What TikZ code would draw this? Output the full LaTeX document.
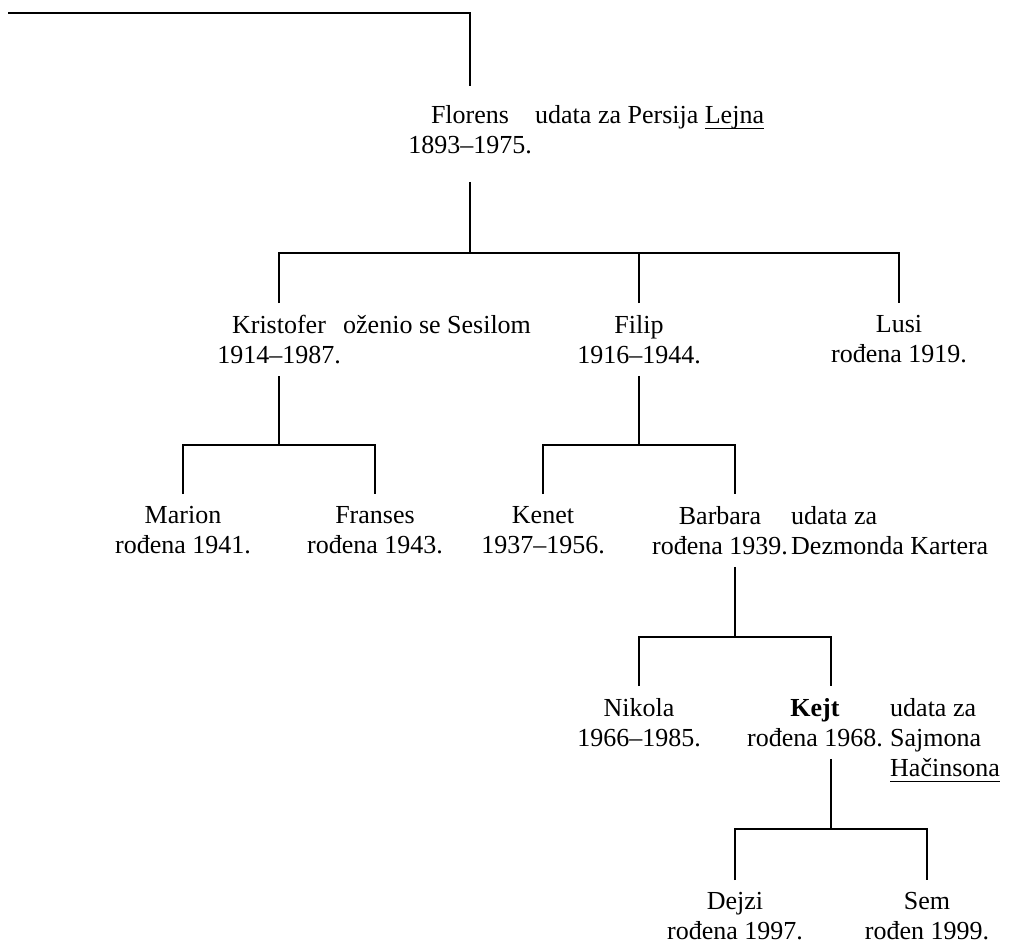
\documentclass[tikz,border=0pt]{standalone}
\usepackage{fontspec}
\setmainfont{Liberation Serif}
\newcommand{\undr}[1]{\setbox0\hbox{#1}\rlap{\rule[-6pt]{\wd0}{1.2pt}}\box0}
\tikzset{
    person/.style={align=center, anchor=north, inner xsep=0pt, inner ysep=12pt},
    spouse/.style={align=left, anchor=north west, inner sep=0pt},
    link/.style={line width=1.6pt}
}
\begin{document}
\begin{tikzpicture}[x=1pt, y=-1pt, font=\fontsize{26}{30}\selectfont]
        \useasboundingbox (0,0) rectangle (1021,950);

        \draw (470,93) node [person] (florens) {Florens\\1893–1975.};
        \draw (535,105) node [spouse] (persija) {udata za Persija \undr{Lejna}};

        \draw (279,303) node [person] (kristofer) {Kristofer\\1914–1987.};
        \draw (343,315) node [spouse] (sesil) {oženio se Sesilom};
        \draw (639,303) node [person] (filip) {Filip\\1916–1944.};
        \draw (899,303) node [person] (lusi) {Lusi\\rođena 1919.};

        \draw (183,494) node [person] (marion) {Marion\\rođena 1941.};
        \draw (375,494) node [person] (franses) {Franses\\rođena 1943.};
        \draw (543,494) node [person] (kenet) {Kenet\\1937–1956.};
        \draw (720,494) node [person] (barbara) {Barbara\\rođena 1939.};
        \draw (791,506) node [spouse] (karter) {udata za\\Dezmonda Kartera};

        \draw (639,686) node [person] (nikola) {Nikola\\1966–1985.};
        \draw (815,686) node [person] (kejt) {\textbf{Kejt}\\rođena 1968.};
        \draw (890,698) node [spouse] (hacinson) {udata za\\Sajmona\\\undr{Hačinsona}};

        \draw (735,880) node [person] (dejzi) {Dejzi\\rođena 1997.};
        \draw (927,880) node [person] (sem) {Sem\\rođen 1999.};

        % junctions
        \coordinate (start) at (8,13);
        \coordinate (jf) at (470,253);
        \coordinate (jk) at (279,445);
        \coordinate (jfl) at (639,445);
        \coordinate (jb) at (735,637);
        \coordinate (jkt) at (831,829);

        \draw[link] (start) -| ([yshift=7pt]florens.north);
        \draw[link, shorten <=16pt] (florens.south) -- (jf);
        \draw[link] (kristofer.north) |- (jf) -| (lusi.north);
        \draw[link] (filip.north) -- (filip.north |- jf);

        \draw[link] (kristofer.south) -- (jk);
        \draw[link] (marion.north) |- (jk) -| (franses.north);
        \draw[link] (filip.south) -- (jfl);
        \draw[link] (kenet.north) |- (jfl) -| (barbara.north -| jb);

        \draw[link] (barbara.south -| jb) -- (jb);
        \draw[link] (nikola.north) |- (jb) -| (kejt.north -| jkt);

        \draw[link] (kejt.south -| jkt) -- (jkt);
        \draw[link] (dejzi.north) |- (jkt) -| (sem.north);
\end{tikzpicture}
\end{document}
